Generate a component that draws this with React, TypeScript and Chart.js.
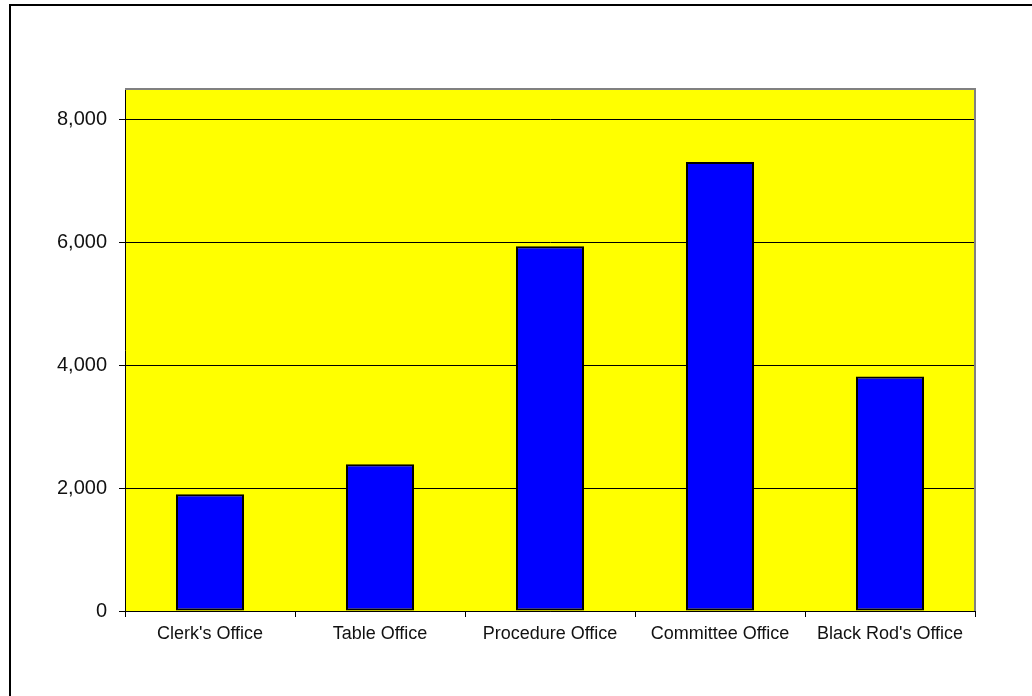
import React, { useEffect, useRef } from "react";
import { Chart, registerables } from "chart.js";

Chart.register(...registerables);

const categories = [
  "Clerk's Office",
  "Table Office",
  "Procedure Office",
  "Committee Office",
  "Black Rod's Office",
];
const expenditure = [1900, 2390, 5940, 7310, 3820];
const yTickValues = [0, 2000, 4000, 6000, 8000];
const yMax = 8500;

const plotDecor = {
  id: "plotDecor",
  beforeDraw(chart: any) {
    const { ctx, chartArea } = chart;
    ctx.save();
    ctx.fillStyle = "#FFFF00";
    ctx.fillRect(chartArea.left, chartArea.top, chartArea.right - chartArea.left, chartArea.bottom - chartArea.top);
    ctx.restore();
  },
  afterDatasetsDraw(chart: any) {
    const { ctx, chartArea } = chart;
    ctx.save();
    ctx.strokeStyle = "#808080";
    ctx.lineWidth = 2;
    ctx.beginPath();
    ctx.moveTo(chartArea.left, chartArea.top);
    ctx.lineTo(chartArea.right, chartArea.top);
    ctx.lineTo(chartArea.right, chartArea.bottom);
    ctx.stroke();
    ctx.restore();
  },
};

export default function App() {
  const ref = useRef<HTMLCanvasElement | null>(null);
  useEffect(() => {
    if (!ref.current) return;
    const chart = new Chart(ref.current, {
      type: "bar",
      data: {
        labels: categories,
        datasets: [
          {
            data: expenditure,
            backgroundColor: "#0000FF",
            borderColor: "#000000",
            borderWidth: 2,
            borderSkipped: false,
            categoryPercentage: 1,
            barPercentage: 0.4,
          },
        ],
      },
      options: {
        animation: false,
        responsive: false,
        maintainAspectRatio: false,
        devicePixelRatio: 1,
        layout: { padding: { left: 25, top: 89, right: 57, bottom: 45 } },
        plugins: {
          legend: { display: false },
          title: { display: false },
          tooltip: { enabled: false },
        },
        scales: {
          x: {
            grid: {
              display: true,
              drawOnChartArea: false,
              drawTicks: true,
              tickLength: 6,
              color: "#000000",
              offset: true,
            },
            border: { display: true, color: "#000000", width: 1 },
            ticks: {
              color: "#111111",
              font: { family: "'Liberation Sans', Arial, sans-serif", size: 18 },
              padding: 6,
              maxRotation: 0,
              autoSkip: false,
            },
            afterFit(scale: any) {
              scale.height = 40;
            },
          },
          y: {
            min: 0,
            max: yMax,
            afterBuildTicks(scale: any) {
              scale.ticks = yTickValues.map((v) => ({ value: v }));
            },
            grid: {
              color: "#000000",
              lineWidth: 1,
              drawTicks: true,
              tickLength: 6,
            },
            border: { display: true, color: "#000000", width: 1 },
            ticks: {
              color: "#111111",
              font: { family: "'Liberation Sans', Arial, sans-serif", size: 20 },
              padding: 12,
              callback: (v: any) => Number(v).toLocaleString("en-US"),
            },
            afterFit(scale: any) {
              scale.width = 100;
            },
          },
        },
      },
      plugins: [plotDecor],
    });
    return () => chart.destroy();
  }, []);

  return (
    <div
      style={{
        position: "fixed",
        left: 0,
        top: 0,
        width: 1032,
        height: 696,
        overflow: "hidden",
        background: "#ffffff",
      }}
    >
      <div
        style={{
          position: "absolute",
          left: 9,
          top: 4,
          width: 1200,
          height: 900,
          borderLeft: "2px solid #000",
          borderTop: "2px solid #000",
        }}
      />
      <canvas
        ref={ref}
        width={1032}
        height={696}
        style={{ position: "absolute", left: 0, top: 0, width: 1032, height: 696 }}
      />
    </div>
  );
}
